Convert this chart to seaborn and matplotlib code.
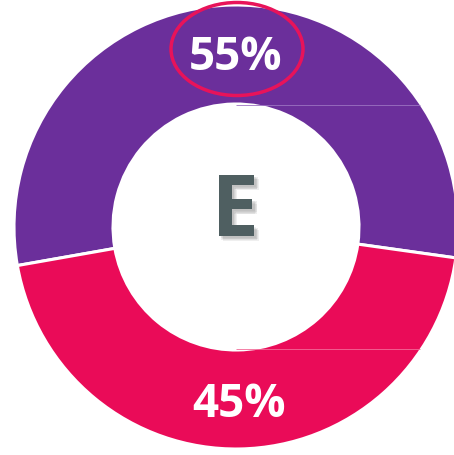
import matplotlib
matplotlib.use("Agg")
import matplotlib.pyplot as plt
import matplotlib.patheffects as pe
from matplotlib.patches import Ellipse
import numpy as np
import seaborn as sns

# Share of each segment (percent)
labels = ["55%", "45%"]
shares = [55, 45]
colors = ["#6B2F9B", "#EA0B58"]
center_letter = "E"

sns.set_theme(style="white")
plt.rcParams["font.family"] = ["Open Sans", "DejaVu Sans"]

W, H = 454, 456
fig = plt.figure(figsize=(W / 100, H / 100), dpi=100)
ax = fig.add_axes([0, 0, 1, 1])

cx, cy = 236, H - 228
r_out, r_in = 222, 123

ax.pie(
    shares,
    colors=colors,
    startangle=-8,
    counterclock=True,
    radius=r_out,
    center=(cx, cy),
    wedgeprops=dict(width=r_out - r_in, edgecolor="white", linewidth=2.2),
    frame=True,
)
ax.set_xlim(0, W)
ax.set_ylim(0, H)
ax.set_aspect("equal")
ax.axis("off")

# Faint seams running from the hole's top/bottom tangent to the outer rim
for dy, c in [(r_in - 1, "#9C72C2"), (-(r_in - 1), "#F36A98")]:
    x_end = cx + np.sqrt(r_out ** 2 - dy ** 2) - 1
    ax.plot([cx, x_end], [cy + dy, cy + dy], color=c, lw=0.6, solid_capstyle="butt")

# Percent labels on the ring
ax.text(235.5, H - 70, labels[0], ha="center", va="baseline",
        fontsize=33, fontweight="bold", color="white")
ax.text(238.5, H - 417, labels[1], ha="center", va="baseline",
        fontsize=33, fontweight="bold", color="white")

# Highlight ring around the larger share
ax.add_patch(Ellipse((237, H - 50), 132, 93, fill=False,
                     edgecolor="#E8135A", linewidth=2.5))

# Center letter with a soft drop shadow
shadow = [pe.SimplePatchShadow(offset=(dx, -dy), shadow_rgbFace="#808080", alpha=0.12)
          for dx, dy in [(1.5, 1.5), (2.5, 2.5), (3.5, 3.5), (3.0, 2.0), (2.0, 3.0)]]
ax.text(235, H - 237, center_letter, ha="center", va="baseline",
        fontsize=62, fontweight="bold", color="#4F5F61",
        path_effects=shadow + [pe.Normal()])

fig.savefig("out.png", dpi=100, facecolor="white")
